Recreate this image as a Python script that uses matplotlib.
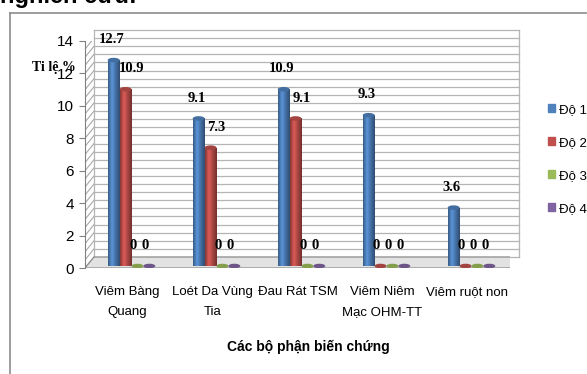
import numpy as np
import matplotlib
matplotlib.use('Agg')
import matplotlib.pyplot as plt
import matplotlib.transforms as mtransforms
from matplotlib.patches import Ellipse, Polygon, Rectangle
from matplotlib.lines import Line2D
from matplotlib.colors import LinearSegmentedColormap, to_rgb

# du lieu
categories = ['Viêm Bàng\nQuang', 'Loét Da Vùng\nTia', 'Đau Rát TSM',
              'Viêm Niêm\nMạc OHM-TT', 'Viêm ruột non']
series_names = ['Độ 1', 'Độ 2', 'Độ 3', 'Độ 4']
do1 = [12.7, 9.1, 10.9, 9.3, 3.6]
do2 = [10.9, 7.3, 9.1, 0, 0]
do3 = [0, 0, 0, 0, 0]
do4 = [0, 0, 0, 0, 0]
y_ticks = [0, 2, 4, 6, 8, 10, 12, 14]

colors = ['#4F81BD', '#C0504D', '#9BBB59', '#8064A2']
sans = ['Liberation Sans', 'DejaVu Sans']
serif = ['Liberation Serif', 'DejaVu Serif']

W, H = 587, 374
fig = plt.figure(figsize=(W / 100, H / 100), dpi=100)
fig.patch.set_facecolor('white')

def px_rect(l, t, r, b):
    return [l / W, 1 - b / H, (r - l) / W, (b - t) / H]

# khung ngoai + tieu de bi cat
fig.add_artist(Line2D([10 / W, 1], [1 - 13 / H] * 2, color='#8c8c8c', lw=1.2))
fig.add_artist(Line2D([10 / W] * 2, [0, 1 - 13 / H], color='#8c8c8c', lw=1.2))
fig.text(0 / W, 1 - 3 / H, 'nghiên cứu:', fontsize=17, fontweight='bold',
         family=sans, va='baseline', ha='left')

ax = fig.add_axes(px_rect(85, 41, 510, 268))
ax.set_xlim(-0.5, 4.5)
ax.set_ylim(0, 14)

# gia 3D: tuong sau, tuong ben, san
dx, dy = 9, 11
back = ax.transData + mtransforms.ScaledTranslation(dx / 100, dy / 100, fig.dpi_scale_trans)
for v in np.arange(0, 14.01, 0.5):
    ax.plot([-0.5, 4.5], [v, v], transform=back, color='#b4b4b4', lw=0.9, clip_on=False, zorder=1)
    x0, y0 = ax.transData.transform((-0.5, v))
    x1, y1 = back.transform((-0.5, v))
    ax.add_artist(Line2D([x0, x1], [y0, y1], transform=None, color='#a8a8a8', lw=0.8, zorder=1))
ax.plot([4.5, 4.5], [0, 14], transform=back, color='#b4b4b4', lw=0.9, clip_on=False, zorder=1)
ax.plot([-0.5, -0.5], [0, 14], transform=back, color='#b4b4b4', lw=0.9, clip_on=False, zorder=1)

corners = [ax.transData.transform(p) for p in [(-0.5, 0), (4.5, 0)]]
corners += [back.transform(p) for p in [(4.5, 0), (-0.5, 0)]]
floor = Polygon(corners, closed=True, transform=None,
                facecolor='#e2e2e2', edgecolor='#8c8c8c', lw=0.9, zorder=2)
ax.add_artist(floor)

# cot hinh tru
bar_tr = ax.transData + mtransforms.ScaledTranslation(4 / 100, 2 / 100, fig.dpi_scale_trans)
x = np.arange(len(categories))
w = 0.14
series = [do1, do2, do3, do4]
for i, vals in enumerate(series):
    xs = x + (i - 1.5) * w
    c = np.array(to_rgb(colors[i]))
    cmap = LinearSegmentedColormap.from_list('cyl', [c * 0.7, np.minimum(c * 1.15, 1), c * 0.85, c * 0.6])
    bars = ax.bar(xs, vals, width=w, color=colors[i], transform=bar_tr, zorder=3, lw=0)
    for b, v in zip(bars, vals):
        bx = b.get_x()
        if v > 0:
            im = ax.imshow(np.linspace(0, 1, 50).reshape(1, -1), cmap=cmap, aspect='auto',
                           extent=[bx, bx + w, 0, v], transform=bar_tr, zorder=3)
            im.set_clip_path(b)
        ax.add_patch(Ellipse((bx + w / 2, v), w, 0.28, transform=bar_tr,
                             facecolor=c * 0.85, edgecolor='none', zorder=4))
        # nhan gia tri
        xoff = -4 if v == 0 else (-2 if i == 0 else 6)
        ax.annotate(f'{v:g}', (bx + w / 2, v), xycoords=bar_tr,
                    xytext=(xoff * 0.72, 10), textcoords='offset points',
                    ha='center', va='bottom', fontsize=10.5, fontweight='bold',
                    family=serif, zorder=6)

ax.set_xlim(-0.5, 4.5)
ax.set_ylim(0, 14)
ax.set_xticks(x)
ax.set_xticklabels(categories, family=sans, fontsize=9.5, linespacing=1.85)
ax.set_yticks(y_ticks)
ax.set_yticklabels([str(t) for t in y_ticks], family=sans, fontsize=11)
ax.tick_params(axis='x', length=0, pad=13)
ax.tick_params(axis='y', length=4, color='#808080', pad=4)
for s in ['top', 'right', 'bottom']:
    ax.spines[s].set_visible(False)
ax.spines['left'].set_color('#808080')
ax.patch.set_visible(False)

fig.text(54 / W, 1 - 68 / H, 'Ti lệ %', fontsize=10, fontweight='bold', family=serif,
         ha='center', va='center', zorder=5)
fig.text(308 / W, 1 - 347 / H, 'Các bộ phận biến chứng', fontsize=10, fontweight='bold',
         family=sans, ha='center', va='center')

handles = [Rectangle((0, 0), 1, 1, color=c) for c in colors]
fig.legend(handles, series_names, loc='upper left', bbox_to_anchor=(541 / W, 1 - 97 / H),
           frameon=False, prop={'family': sans, 'size': 9.5}, handlelength=0.55,
           handleheight=0.6, handletextpad=0.3, labelspacing=1.6, borderpad=0)

fig.savefig('out.png', dpi=100)
